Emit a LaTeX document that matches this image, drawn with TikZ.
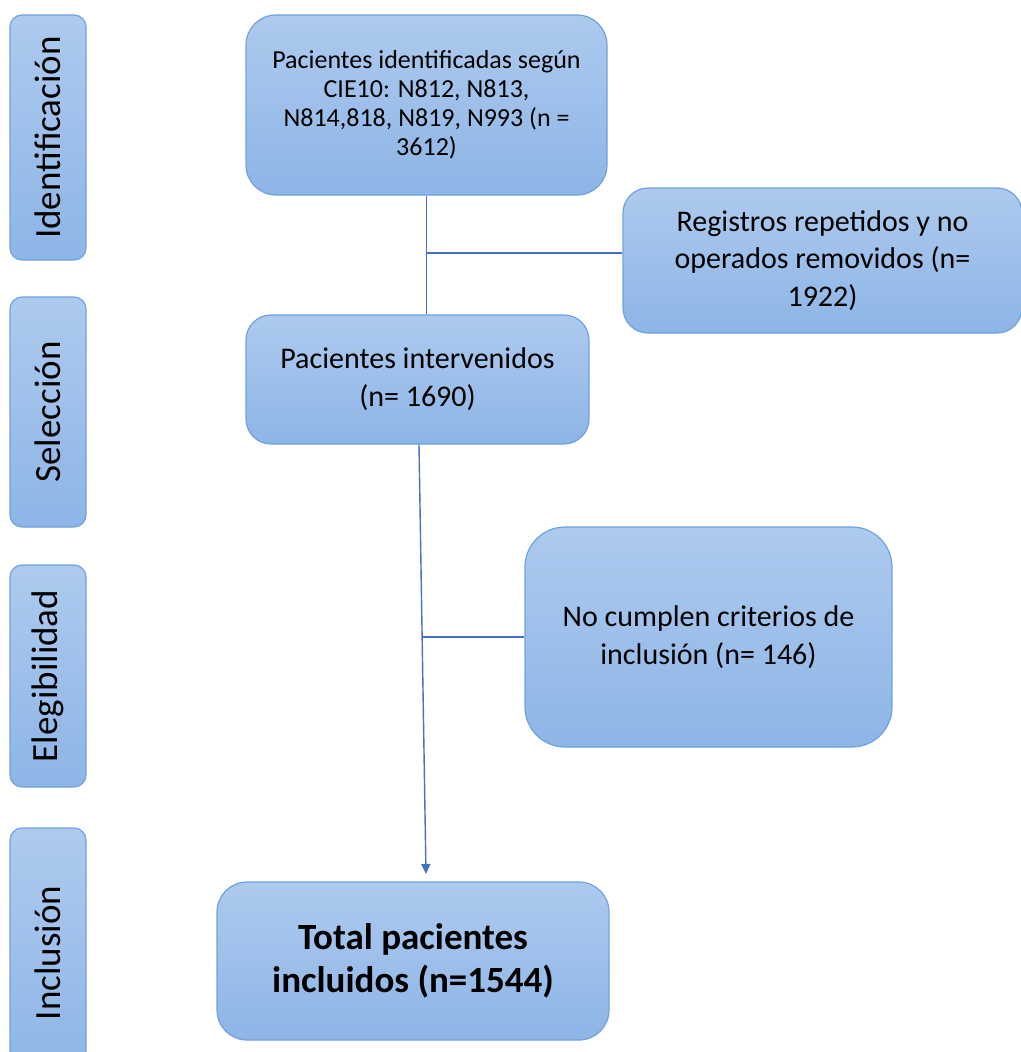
\documentclass[tikz,border=0pt]{standalone}
\usepackage{fontspec}
\setmainfont{Carlito}
\usetikzlibrary{arrows.meta,calc}
\definecolor{boxtop}{HTML}{ADCAEE}
\definecolor{boxbot}{HTML}{8DB5E6}
\definecolor{boxedge}{HTML}{6FA2DE}
\definecolor{lineblue}{HTML}{4472C4}
\tikzset{
  flowbox/.style={draw=boxedge, line width=1.2pt, top color=boxtop, bottom color=boxbot, align=center, inner sep=0pt},
  sidebox/.style={flowbox, rounded corners=12pt, minimum width=76pt},
  sidetext/.style={rotate=90, font=\fontsize{37}{44}\selectfont},
  conn/.style={draw=lineblue, line width=1.4pt},
}
\begin{document}
\begin{tikzpicture}[x=1pt,y=-1pt]
\useasboundingbox (0,0) rectangle (1020,1052);
% side boxes
\node[sidebox, minimum height=245pt, label={[sidetext]center:Identificación}] (sid) at (48,137.5) {};
\node[sidebox, minimum height=230pt, label={[sidetext]center:Selección}] (ssel) at (48,412) {};
\node[sidebox, minimum height=222pt, label={[sidetext]center:Elegibilidad}] (seleg) at (48,676) {};
\node[sidebox, minimum height=250pt, label={[sidetext]center:Inclusión}] (sinc) at (48,953) {};
% main boxes
\node[flowbox, rounded corners=30pt, minimum width=361pt, minimum height=180pt,
      font=\fontsize{26}{29}\selectfont] (top) at (426.5,105)
  {Pacientes identificadas según\\CIE10: N812, N813,\\N814,818, N819, N993 (n =\\3612)};
\node[flowbox, rounded corners=25pt, minimum width=399pt, minimum height=145pt,
      font=\fontsize{30}{37.5}\selectfont] (reg) at (822.5,260.5)
  {Registros repetidos y no\\operados removidos (n=\\1922)};
\node[flowbox, rounded corners=25pt, minimum width=343pt, minimum height=129pt,
      font=\fontsize{30}{38}\selectfont] (intv) at (417.5,379.5)
  {Pacientes intervenidos\\(n= 1690)};
\node[flowbox, rounded corners=40pt, minimum width=367pt, minimum height=220pt,
      font=\fontsize{30}{38}\selectfont] (nocum) at (708.5,637)
  {No cumplen criterios de\\inclusión (n= 146)};
\node[flowbox, rounded corners=30pt, minimum width=392pt, minimum height=158pt,
      font=\fontsize{37}{43}\selectfont\bfseries] (total) at (413,961)
  {Total pacientes\\incluidos (n=1544)};
% connectors
\draw[conn] (top.south) -- (top.south |- intv.north);
\coordinate (b1) at (426.5,253);
\draw[conn] (b1) -- (b1 -| reg.west);
\coordinate (arrEnd) at (426,874);
\coordinate (intvOut) at ($(intv.south)+(1.5,0)$);
\draw[conn, -{Triangle[length=10pt,width=9pt]}] (intvOut) -- (arrEnd);
\coordinate (b2) at ($(intvOut)!0.4476!(arrEnd)$);
\draw[conn] (b2) -- (b2 -| nocum.west);
\end{tikzpicture}
\end{document}
